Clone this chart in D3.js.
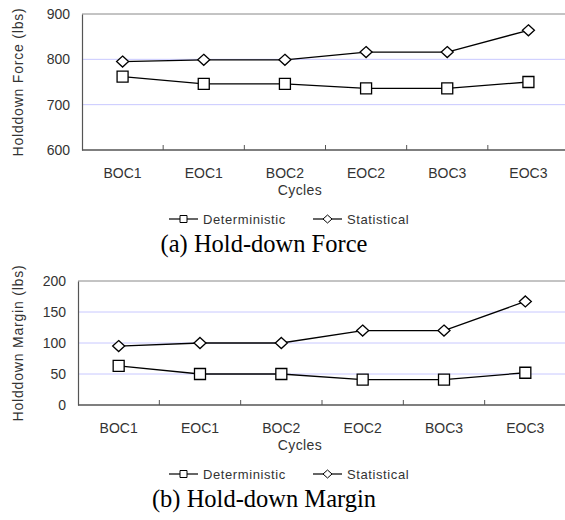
<!DOCTYPE html>
<html>
<head>
<meta charset="utf-8">
<script src="https://cdn.jsdelivr.net/npm/d3@7"></script>
<style>
  body { margin: 0; background: #fff; }
  svg text { font-family: "Liberation Sans", Arial, sans-serif; }
</style>
</head>
<body>
<div id="chart"></div>
<script>
// Data
const cycles = ["BOC1", "EOC1", "BOC2", "EOC2", "BOC3", "EOC3"];
const seriesNames = ["Deterministic", "Statistical"];

const forceDeterministic = [762, 746, 746, 736, 736, 750];
const forceStatistical = [795, 799, 799, 816, 816, 864];
const forceTicks = [600, 700, 800, 900];

const marginDeterministic = [63, 50, 50, 41, 41, 52];
const marginStatistical = [95, 100, 100, 120, 120, 167];
const marginTicks = [0, 50, 100, 150, 200];

const svg = d3.select("#chart").append("svg")
    .attr("width", 565)
    .attr("height", 520);

function drawPanel(opts) {
    const { top, bottom, left, right, ticks, series, yTitle, caption } = opts;
    const g = svg.append("g");

    const x = d3.scaleBand()
        .domain(cycles)
        .range([left, right]);

    const y = d3.scaleLinear()
        .domain([ticks[0], ticks[ticks.length - 1]])
        .range([bottom, top]);

    // Gridlines
    g.selectAll(".grid")
        .data(ticks.slice(1, -1))
        .enter().append("line")
        .attr("x1", left).attr("x2", right)
        .attr("y1", d => y(d)).attr("y2", d => y(d))
        .attr("stroke", "#c8c8ff")
        .attr("stroke-width", 1);

    // Top border
    g.append("line")
        .attr("x1", left).attr("x2", right)
        .attr("y1", top).attr("y2", top)
        .attr("stroke", "#888").attr("stroke-width", 1);

    // Left axis
    const yAxis = g.append("g")
        .attr("transform", `translate(${left},0)`)
        .call(d3.axisLeft(y).tickValues(ticks).tickSize(0).tickPadding(12));
    yAxis.select(".domain").attr("stroke", "#555").attr("stroke-width", 1.2);
    yAxis.selectAll("text").attr("font-size", 14).attr("fill", "#333");

    // Bottom axis with ticks at band boundaries
    g.append("line")
        .attr("x1", left).attr("x2", right)
        .attr("y1", bottom).attr("y2", bottom)
        .attr("stroke", "#555").attr("stroke-width", 1.6);
    g.selectAll(".xtick")
        .data(cycles.slice(1))
        .enter().append("line")
        .attr("x1", d => x(d)).attr("x2", d => x(d))
        .attr("y1", bottom).attr("y2", bottom - 5)
        .attr("stroke", "#555").attr("stroke-width", 1);
    g.selectAll(".xlabel")
        .data(cycles)
        .enter().append("text")
        .attr("x", d => x(d) + x.bandwidth() / 2)
        .attr("y", bottom + 28)
        .attr("text-anchor", "middle")
        .attr("font-size", 14)
        .attr("fill", "#333")
        .text(d => d);

    // Axis titles
    g.append("text")
        .attr("transform", `translate(23,${(top + bottom) / 2}) rotate(-90)`)
        .attr("text-anchor", "middle")
        .attr("font-size", 14)
        .attr("letter-spacing", 0.8)
        .attr("fill", "#333")
        .text(yTitle);
    g.append("text")
        .attr("x", 300)
        .attr("y", bottom + 45)
        .attr("text-anchor", "middle")
        .attr("font-size", 14)
        .attr("letter-spacing", 0.4)
        .attr("fill", "#333")
        .text("Cycles");

    const line = d3.line()
        .x((d, i) => x(cycles[i]) + x.bandwidth() / 2)
        .y(d => y(d));

    series.forEach((values, si) => {
        g.append("path")
            .datum(values)
            .attr("d", line)
            .attr("fill", "none")
            .attr("stroke", "#000")
            .attr("stroke-width", 1.3);
        g.selectAll(".m" + si)
            .data(values)
            .enter().append("path")
            .attr("transform", (d, i) => `translate(${x(cycles[i]) + x.bandwidth() / 2},${y(d)})`)
            .attr("d", si === 0 ? "M-5.5,-5.5H5.5V5.5H-5.5Z" : "M0,-5.5L6,0L0,5.5L-6,0Z")
            .attr("fill", "#fff")
            .attr("stroke", "#000")
            .attr("stroke-width", 1.3);
    });

    // Legend
    const legendY = bottom + 69;
    const legendX = [169, 313];
    seriesNames.forEach((name, si) => {
        const lx = legendX[si];
        g.append("line")
            .attr("x1", lx).attr("x2", lx + 29)
            .attr("y1", legendY).attr("y2", legendY)
            .attr("stroke", "#000").attr("stroke-width", 1.2);
        g.append("path")
            .attr("transform", `translate(${lx + 14.5},${legendY})`)
            .attr("d", si === 0 ? "M-3.5,-3.5H3.5V3.5H-3.5Z" : "M0,-4L4.5,0L0,4L-4.5,0Z")
            .attr("fill", "#fff")
            .attr("stroke", "#000")
            .attr("stroke-width", 1);
        g.append("text")
            .attr("x", lx + 34)
            .attr("y", legendY + 4.5)
            .attr("font-size", 13)
            .attr("letter-spacing", 0.6)
            .attr("fill", "#333")
            .text(name);
    });

    // Caption
    g.append("text")
        .attr("x", 264)
        .attr("y", bottom + 102)
        .attr("text-anchor", "middle")
        .attr("font-size", 24.5)
        .attr("fill", "#000")
        .style("font-family", "'Liberation Serif', 'Times New Roman', serif")
        .text(caption);
}

drawPanel({
    top: 14, bottom: 150, left: 82, right: 569,
    ticks: forceTicks,
    series: [forceDeterministic, forceStatistical],
    yTitle: "Holddown Force (lbs)",
    caption: "(a) Hold-down Force"
});

drawPanel({
    top: 281, bottom: 405, left: 78, right: 566,
    ticks: marginTicks,
    series: [marginDeterministic, marginStatistical],
    yTitle: "Holddown Margin (lbs)",
    caption: "(b) Hold-down Margin"
});
</script>
</body>
</html>
